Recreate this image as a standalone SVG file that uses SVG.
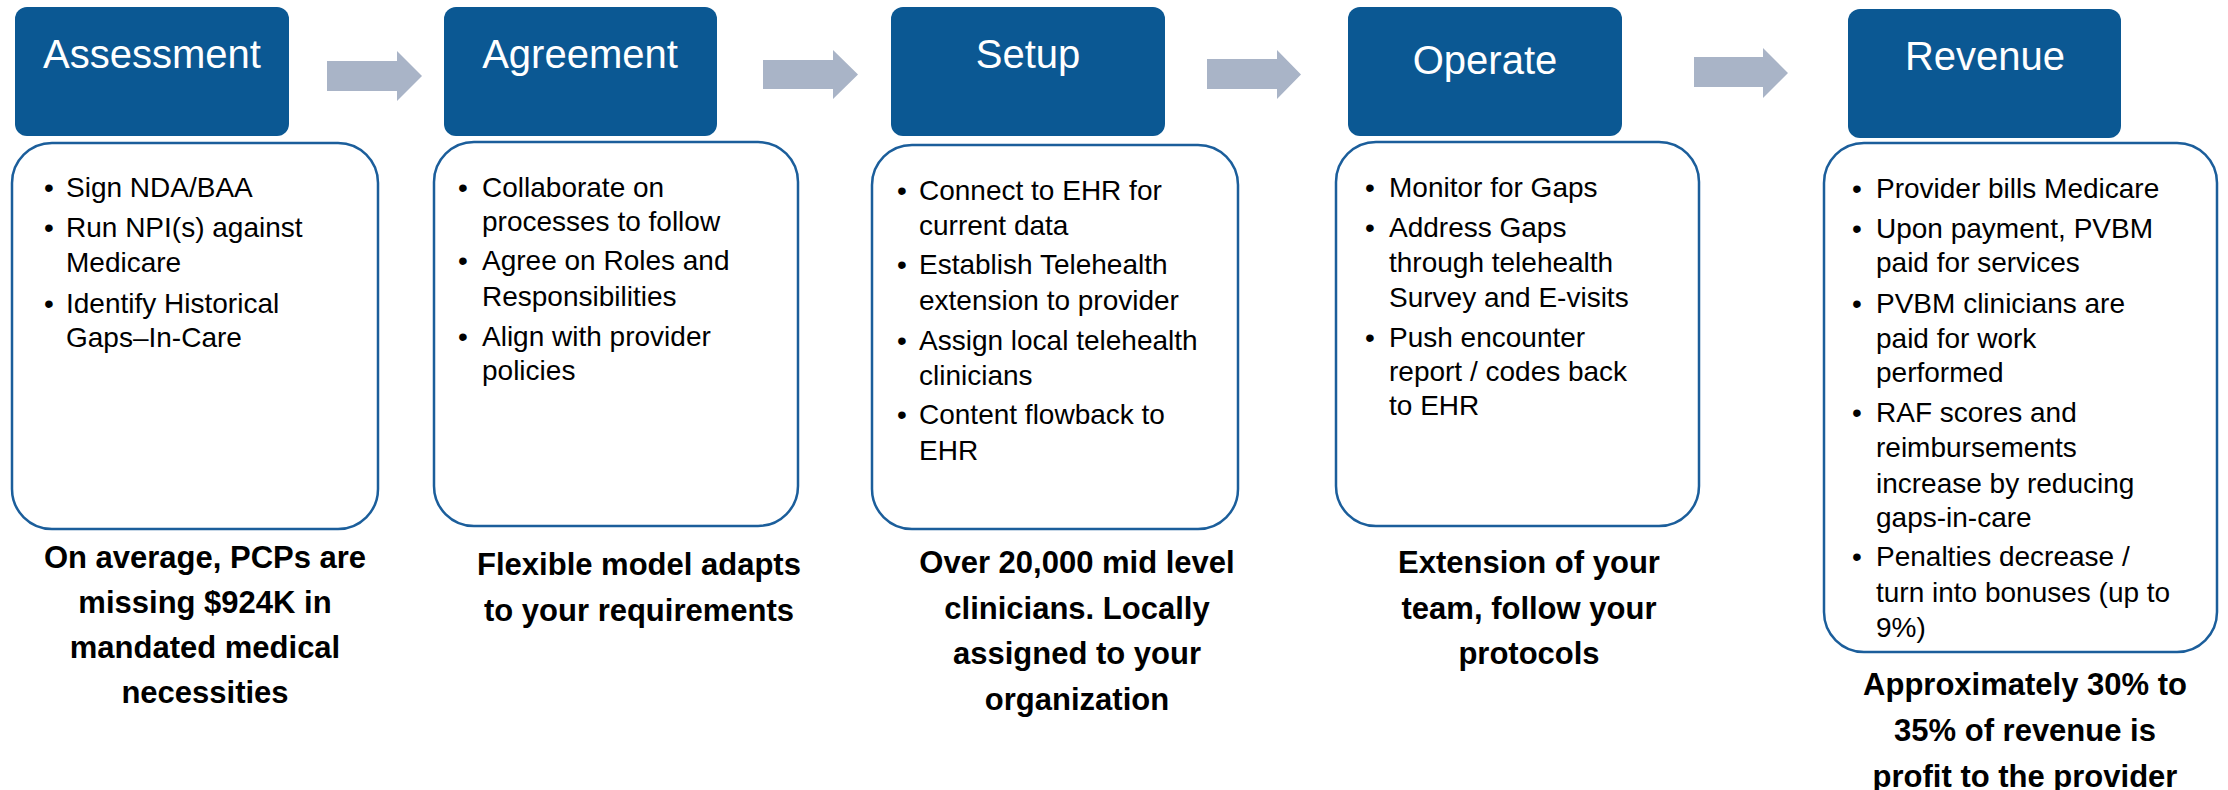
<svg xmlns="http://www.w3.org/2000/svg" width="2228" height="790" viewBox="0 0 2228 790">
<style>
.hdr{fill:#0B5893;}
.box{fill:#FFFFFF;stroke:#1B5E9B;stroke-width:2.5;}
.ht{font-family:"Liberation Sans",Arial,sans-serif;font-size:40px;fill:#FFFFFF;text-anchor:middle;}
.bt{font-family:"Liberation Sans",Arial,sans-serif;font-size:28px;fill:#000000;}
.bu{font-family:"Liberation Sans",Arial,sans-serif;font-size:28px;fill:#000000;text-anchor:middle;}
.ft{font-family:"Liberation Sans",Arial,sans-serif;font-size:31px;font-weight:bold;fill:#000000;text-anchor:middle;}
.arr{fill:#A9B4C7;}
</style>
<rect width="2228" height="790" fill="#FFFFFF"/>
<g id="connectors">
<polygon class="arr" points="327,61 397,61 397,51 422,76 397,101 397,91 327,91"/>
<polygon class="arr" points="763,60 833,60 833,50 858,74.5 833,99 833,89 763,89"/>
<polygon class="arr" points="1207,59 1277,59 1277,50 1301,74.5 1277,99 1277,89 1207,89"/>
<polygon class="arr" points="1694,57 1763,57 1763,48 1788,73 1763,98 1763,87 1694,87"/>
</g>
<g id="assessment">
<rect class="hdr" x="15" y="7" width="274" height="129" rx="12"/>
<text class="ht" x="152" y="68">Assessment</text>
<rect class="box" x="12" y="143" width="366" height="386" rx="40"/>
<text class="bu" x="49" y="197">•</text><text class="bt" x="66" y="197">Sign NDA/BAA</text>
<text class="bu" x="49" y="237">•</text><text class="bt" x="66" y="237">Run NPI(s) against</text>
<text class="bt" x="66" y="272">Medicare</text>
<text class="bu" x="49" y="313">•</text><text class="bt" x="66" y="313">Identify  Historical</text>
<text class="bt" x="66" y="347">Gaps–In-Care</text>
<text class="ft" x="205" y="568">On average, PCPs are</text>
<text class="ft" x="205" y="613">missing $924K in</text>
<text class="ft" x="205" y="658">mandated medical</text>
<text class="ft" x="205" y="703">necessities</text>
</g>
<g id="agreement">
<rect class="hdr" x="444" y="7" width="273" height="129" rx="12"/>
<text class="ht" x="580" y="68">Agreement</text>
<rect class="box" x="434" y="142" width="364" height="384" rx="40"/>
<text class="bu" x="463" y="197">•</text><text class="bt" x="482" y="197">Collaborate on</text>
<text class="bt" x="482" y="231">processes to follow</text>
<text class="bu" x="463" y="270">•</text><text class="bt" x="482" y="270">Agree on Roles and</text>
<text class="bt" x="482" y="306">Responsibilities</text>
<text class="bu" x="463" y="346">•</text><text class="bt" x="482" y="346">Align with provider</text>
<text class="bt" x="482" y="380">policies</text>
<text class="ft" x="639" y="575">Flexible model adapts</text>
<text class="ft" x="639" y="621">to your requirements</text>
</g>
<g id="setup">
<rect class="hdr" x="891" y="7" width="274" height="129" rx="12"/>
<text class="ht" x="1028" y="68">Setup</text>
<rect class="box" x="872" y="145" width="366" height="384" rx="40"/>
<text class="bu" x="902" y="200">•</text><text class="bt" x="919" y="200">Connect to EHR for</text>
<text class="bt" x="919" y="235">current data</text>
<text class="bu" x="902" y="274">•</text><text class="bt" x="919" y="274">Establish Telehealth</text>
<text class="bt" x="919" y="310">extension to provider</text>
<text class="bu" x="902" y="350">•</text><text class="bt" x="919" y="350">Assign local telehealth</text>
<text class="bt" x="919" y="385">clinicians</text>
<text class="bu" x="902" y="424">•</text><text class="bt" x="919" y="424">Content flowback to</text>
<text class="bt" x="919" y="460">EHR</text>
<text class="ft" x="1077" y="573">Over 20,000 mid level</text>
<text class="ft" x="1077" y="619">clinicians. Locally</text>
<text class="ft" x="1077" y="664">assigned to your</text>
<text class="ft" x="1077" y="710">organization</text>
</g>
<g id="operate">
<rect class="hdr" x="1348" y="7" width="274" height="129" rx="12"/>
<text class="ht" x="1485" y="74">Operate</text>
<rect class="box" x="1336" y="142" width="363" height="384" rx="40"/>
<text class="bu" x="1370" y="197">•</text><text class="bt" x="1389" y="197">Monitor for Gaps</text>
<text class="bu" x="1370" y="237">•</text><text class="bt" x="1389" y="237">Address Gaps</text>
<text class="bt" x="1389" y="272">through telehealth</text>
<text class="bt" x="1389" y="307">Survey and E-visits</text>
<text class="bu" x="1370" y="347">•</text><text class="bt" x="1389" y="347">Push encounter</text>
<text class="bt" x="1389" y="381">report / codes back</text>
<text class="bt" x="1389" y="415">to EHR</text>
<text class="ft" x="1529" y="573">Extension of your</text>
<text class="ft" x="1529" y="619">team, follow your</text>
<text class="ft" x="1529" y="664">protocols</text>
</g>
<g id="revenue">
<rect class="hdr" x="1848" y="9" width="273" height="129" rx="12"/>
<text class="ht" x="1985" y="70">Revenue</text>
<rect class="box" x="1824" y="143" width="393" height="509" rx="40"/>
<text class="bu" x="1857" y="198">•</text><text class="bt" x="1876" y="198">Provider bills Medicare</text>
<text class="bu" x="1857" y="238">•</text><text class="bt" x="1876" y="238">Upon payment, PVBM</text>
<text class="bt" x="1876" y="272">paid for services</text>
<text class="bu" x="1857" y="313">•</text><text class="bt" x="1876" y="313">PVBM clinicians are</text>
<text class="bt" x="1876" y="348">paid  for work</text>
<text class="bt" x="1876" y="382">performed</text>
<text class="bu" x="1857" y="422">•</text><text class="bt" x="1876" y="422">RAF scores and</text>
<text class="bt" x="1876" y="457">reimbursements</text>
<text class="bt" x="1876" y="493">increase by reducing</text>
<text class="bt" x="1876" y="527">gaps-in-care</text>
<text class="bu" x="1857" y="566">•</text><text class="bt" x="1876" y="566">Penalties decrease /</text>
<text class="bt" x="1876" y="602">turn into bonuses (up to</text>
<text class="bt" x="1876" y="637">9%)</text>
<text class="ft" x="2025" y="695">Approximately 30% to</text>
<text class="ft" x="2025" y="741">35% of revenue is</text>
<text class="ft" x="2025" y="787">profit to the provider</text>
</g>
</svg>
